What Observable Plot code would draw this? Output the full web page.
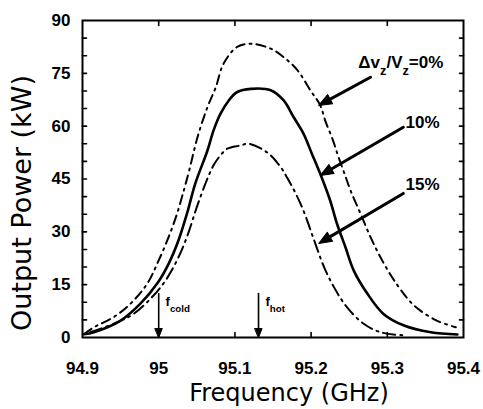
<!DOCTYPE html>
<html>
<head>
<meta charset="utf-8">
<script src="https://cdn.jsdelivr.net/npm/d3@7"></script>
<script src="https://cdn.jsdelivr.net/npm/@observablehq/plot@0.6"></script>
<style>
  body { margin: 0; background: #fff; }
  #chart svg { display: block; }
</style>
</head>
<body>
<div id="chart"></div>
<script>
// ---- Data (frequency in GHz, power in kW) ----
const freq0  = [94.902, 94.915, 94.941, 94.963, 94.985, 95.000, 95.013, 95.024, 95.033, 95.040, 95.051, 95.064, 95.075, 95.085, 95.103, 95.121, 95.147, 95.164, 95.182, 95.199, 95.212, 95.219, 95.228, 95.236, 95.245, 95.252, 95.265, 95.278, 95.291, 95.309, 95.335, 95.365, 95.390];
const power0 = [1.0, 2.9, 5.8, 9.6, 15.3, 21.9, 28.5, 35.1, 41.8, 47.4, 56.9, 65.4, 71.1, 77.7, 82.5, 83.4, 82.0, 79.6, 75.9, 70.2, 65.9, 61.3, 56.4, 51.2, 45.8, 41.6, 35.1, 28.5, 22.8, 16.2, 9.1, 4.8, 2.9];

const freq10  = [94.902, 94.915, 94.950, 94.976, 94.998, 95.013, 95.026, 95.037, 95.048, 95.064, 95.072, 95.081, 95.092, 95.103, 95.121, 95.147, 95.164, 95.177, 95.190, 95.201, 95.212, 95.225, 95.234, 95.245, 95.256, 95.274, 95.295, 95.322, 95.357, 95.392];
const power10 = [0.9, 1.5, 4.8, 9.6, 15.3, 20.9, 27.6, 35.1, 43.7, 53.1, 58.8, 63.5, 67.3, 69.7, 70.6, 70.2, 67.3, 62.6, 57.9, 52.2, 46.5, 38.9, 32.3, 25.7, 19.0, 12.4, 6.7, 3.4, 1.5, 0.85];

const freq15  = [94.910, 94.941, 94.967, 94.991, 95.009, 95.024, 95.037, 95.050, 95.063, 95.072, 95.081, 95.090, 95.107, 95.118, 95.142, 95.160, 95.169, 95.180, 95.190, 95.204, 95.217, 95.230, 95.247, 95.269, 95.291, 95.322];
const power15 = [1.5, 3.9, 6.7, 11.4, 16.2, 21.9, 28.5, 37.0, 44.6, 48.9, 51.7, 53.6, 54.5, 55.0, 52.6, 48.4, 45.2, 40.8, 36.0, 27.6, 20.0, 14.3, 8.6, 3.9, 1.5, 0.6];

const seriesNames = ["0%", "10%", "15%"];

// ---- Axis ticks ----
const xDomain = [94.9, 95.4];
const yDomain = [0, 90];
const xTickValues = [94.9, 95, 95.1, 95.2, 95.3, 95.4];
const xTickLabels = ["94.9", "95", "95.1", "95.2", "95.3", "95.4"];
const yTickValues = [0, 15, 30, 45, 60, 75, 90];
const xMinorTicks = [95.0, 95.1, 95.2, 95.3];
const yMinorTicks = [5, 10, 15, 20, 25, 30, 35, 40, 45, 50, 55, 60, 65, 70, 75, 80, 85];

// ---- Annotations ----
const labelArrows = [
  {x1: 95.278, y1: 73.9, x2: 95.210, y2: 65.9},
  {x1: 95.321, y1: 59.7, x2: 95.212, y2: 46.0},
  {x1: 95.321, y1: 40.9, x2: 95.210, y2: 26.7}
];
const labelTexts = [
  {x: 95.262, y: 78.1, text: "Δv{z}/V{z}=0%"},
  {x: 95.324, y: 61.1, text: "10%"},
  {x: 95.324, y: 43.5, text: "15%"}
];
const markerFreqs = [95.0, 95.131];
const markerLabels = ["f{cold}", "f{hot}"];
const markerTop = 12.5;

// ---- Layout ----
const W = 483, H = 409, mL = 82, mR = 20, mT = 20, mB = 72;
const kx = (W - mL - mR) / (xDomain[1] - xDomain[0]);
const ky = (H - mT - mB) / (yDomain[1] - yDomain[0]);
const headAngle = d => Math.atan2((d.x2 - d.x1) * kx, (d.y2 - d.y1) * ky) * 180 / Math.PI;

// ---- Build tables ----
const seriesData = [
  {name: seriesNames[0], f: freq0, p: power0},
  {name: seriesNames[1], f: freq10, p: power10},
  {name: seriesNames[2], f: freq15, p: power15}
];
const rows = seriesData.flatMap(s => s.f.map((f, i) => ({series: s.name, f, p: s.p[i]})));
const markers = markerFreqs.map((f, i) => ({f, top: markerTop, bottom: 0, label: markerLabels[i]}));

const tickShape = {draw(ctx, l) { ctx.moveTo(0, 0); ctx.lineTo(0, -l); }};
const headShape = {draw(ctx, l) { ctx.moveTo(0, -l); ctx.lineTo(-0.4 * l, 0); ctx.lineTo(0.4 * l, 0); ctx.closePath(); }};

const chart = Plot.plot({
  width: W,
  height: H,
  marginLeft: mL,
  marginRight: mR,
  marginTop: mT,
  marginBottom: mB,
  style: {fontFamily: "Liberation Sans, Arial, sans-serif", background: "#fff", color: "#000"},
  x: {domain: xDomain, label: null},
  y: {domain: yDomain, label: null},
  marks: [
    // curves
    Plot.line(rows.filter(d => d.series === "0%"), {x: "f", y: "p", stroke: "#000", strokeWidth: 2, strokeDasharray: "9,5,2,5", curve: "catmull-rom"}),
    Plot.line(rows.filter(d => d.series === "10%"), {x: "f", y: "p", stroke: "#000", strokeWidth: 2.6, curve: "catmull-rom"}),
    Plot.line(rows.filter(d => d.series === "15%"), {x: "f", y: "p", stroke: "#000", strokeWidth: 2, strokeDasharray: "12,5,2,5", curve: "catmull-rom"}),
    // frame
    Plot.frame({stroke: "#000", strokeWidth: 2}),
    // inward ticks
    Plot.vector(yMinorTicks, {y: d => d, frameAnchor: "left", rotate: 90, length: 4, anchor: "start", shape: tickShape, stroke: "#000", strokeWidth: 1.6}),
    Plot.vector(yMinorTicks, {y: d => d, frameAnchor: "right", rotate: -90, length: 4, anchor: "start", shape: tickShape, stroke: "#000", strokeWidth: 1.6}),
    Plot.vector(xMinorTicks, {x: d => d, frameAnchor: "bottom", rotate: 0, length: 5, anchor: "start", shape: tickShape, stroke: "#000", strokeWidth: 1.6}),
    Plot.vector(xMinorTicks, {x: d => d, frameAnchor: "top", rotate: 180, length: 5, anchor: "start", shape: tickShape, stroke: "#000", strokeWidth: 1.6}),
    // tick labels
    Plot.axisX({ticks: xTickValues, tickFormat: d => xTickLabels[xTickValues.indexOf(d)], tickSize: 0, dy: 15, fontSize: 17, fontWeight: "bold", label: null}),
    Plot.axisY({ticks: yTickValues, tickSize: 0, dx: -3, fontSize: 17, fontWeight: "bold", label: null}),
    // axis titles
    Plot.text(["Frequency (GHz)"], {text: d => d, frameAnchor: "bottom", dx: 16, dy: 56, lineAnchor: "middle", textAnchor: "middle", fontSize: 24, fontFamily: "DejaVu Sans"}),
    Plot.text(["Output Power (kW)"], {text: d => d, frameAnchor: "left", rotate: -90, dx: -60, dy: 24, lineAnchor: "middle", textAnchor: "middle", fontSize: 27, fontFamily: "DejaVu Sans"}),
    // annotation arrows (shaft + filled head) and texts
    Plot.arrow(labelArrows, {x1: "x1", y1: "y1", x2: "x2", y2: "y2", stroke: "#000", strokeWidth: 3, headLength: 0, insetEnd: 10}),
    Plot.vector(labelArrows, {x: "x2", y: "y2", rotate: headAngle, length: 13, anchor: "end", shape: headShape, fill: "#000", stroke: "#000", strokeWidth: 1}),
    Plot.text(labelTexts, {x: "x", y: "y", text: "text", textAnchor: "start", lineAnchor: "middle", fontSize: 17, fontWeight: "bold", className: "subtext"}),
    // f_cold / f_hot markers
    Plot.arrow(markers, {x1: "f", x2: "f", y1: "top", y2: "bottom", stroke: "#000", strokeWidth: 1.6, headLength: 0, insetEnd: 6}),
    Plot.vector(markers, {x: "f", y: "bottom", rotate: 180, length: 9, anchor: "end", shape: headShape, fill: "#000", stroke: "#000", strokeWidth: 1}),
    Plot.text(markers, {x: d => d.f + 0.009, y: 10, text: "label", textAnchor: "start", lineAnchor: "middle", fontSize: 13, fontWeight: "bold", className: "subtext"})
  ]
});

document.getElementById("chart").appendChild(chart);

// subscripts: "{...}" segments become lowered, smaller tspans
d3.select(chart).selectAll("g.subtext text").each(function() {
  const el = d3.select(this);
  const raw = el.text();
  const fs = parseFloat(getComputedStyle(this).fontSize) || 16;
  const shift = fs * 0.4;
  el.text("");
  const parts = raw.split(/\{([^}]*)\}/);
  let lowered = false;
  parts.forEach((part, i) => {
    if (!part) return;
    const t = el.append("tspan").text(part);
    if (i % 2 === 1) {
      t.attr("font-size", (fs * 0.75) + "px");
      if (!lowered) { t.attr("dy", shift); lowered = true; }
    } else if (lowered) {
      t.attr("dy", -shift); lowered = false;
    }
  });
});
</script>
</body>
</html>
